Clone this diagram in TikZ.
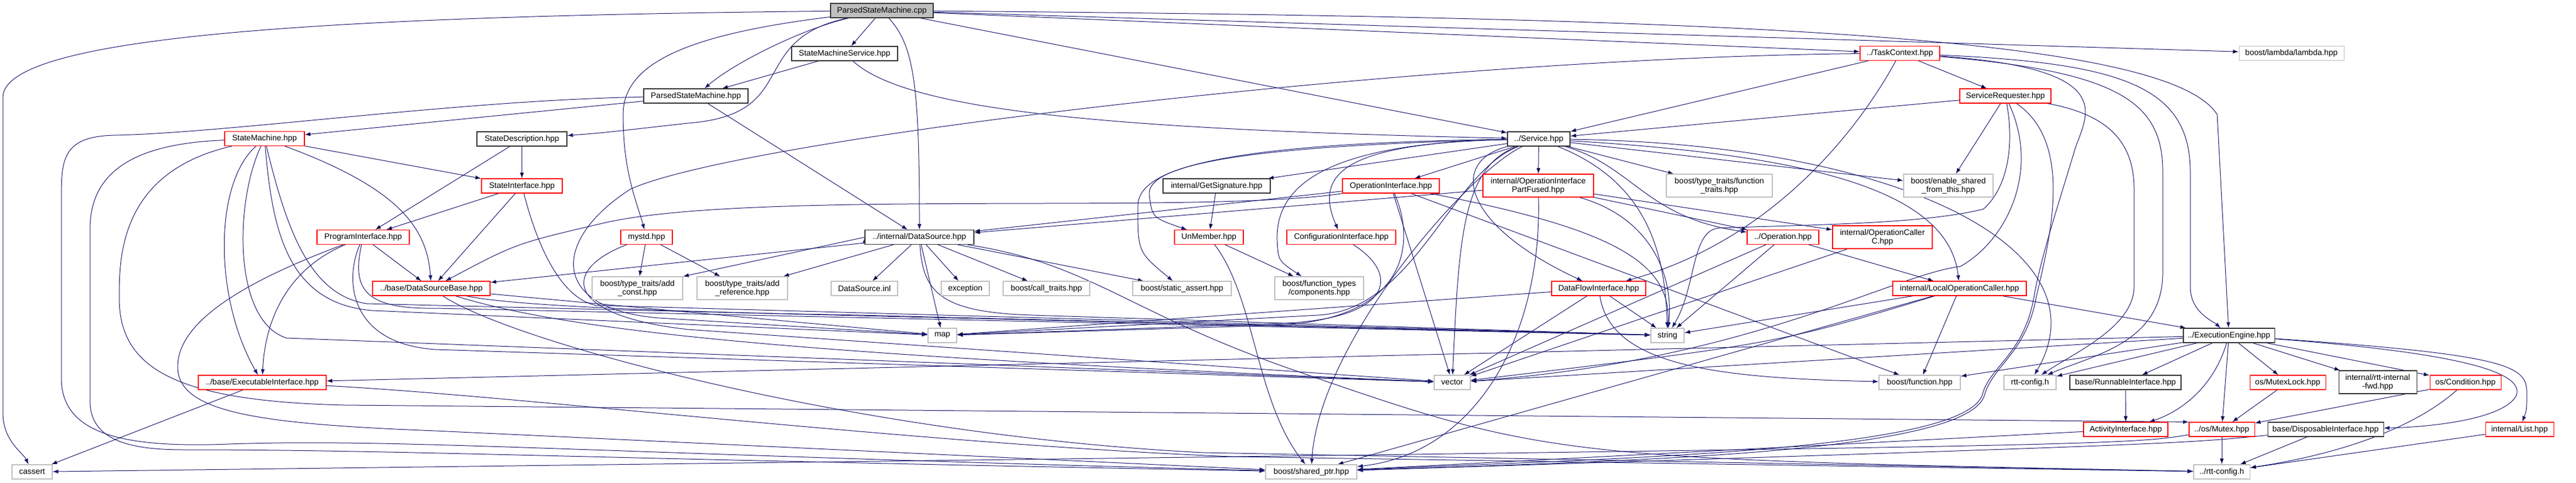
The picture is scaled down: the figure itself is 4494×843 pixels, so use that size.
\documentclass[tikz,border=0pt]{standalone}
\usepackage{fontspec}
\setmainfont{Liberation Sans}
\usetikzlibrary{arrows.meta, backgrounds}

\definecolor{edgeblue}{HTML}{191970}
\definecolor{grey75}{HTML}{BFBFBF}

\tikzset{
  file/.style={draw, rectangle, fill=white, line width=1.1pt, inner sep=0pt,
    minimum height=25pt, align=center, font=\fontsize{14}{15}\selectfont},
  doc/.style={file, draw=black!80},
  cut/.style={file, draw=red},
  sys/.style={file, draw=grey75},
  two/.style={minimum height=40pt},
  dep/.style={draw=edgeblue, line width=1pt, -{Latex[length=10pt, width=7pt]}},
}

\begin{document}
\begin{tikzpicture}[x=1pt, y=-1pt]
\useasboundingbox (0,0) rectangle (4494,843);

% the file itself and the headers it pulls in
\node [doc, fill=grey75, minimum width=179pt] (cpp) at (1538.5,18.5) {ParsedStateMachine.cpp};
\node [doc, minimum width=185pt] (smsvc) at (1473.5,93.5) {StateMachineService.hpp};
\node [cut, minimum width=139pt] (tc) at (3314.5,93) {../TaskContext.hpp};
\node [sys, minimum width=183pt] (lambda) at (3997.5,93) {boost/lambda/lambda.hpp};
\node [doc, minimum width=182pt] (psm) at (1214,167.5) {ParsedStateMachine.hpp};
\node [cut, minimum width=159pt] (sreq) at (3498.5,167.5) {ServiceRequester.hpp};
\node [cut, minimum width=139pt] (sm) at (461.5,242) {StateMachine.hpp};
\node [doc, minimum width=157pt] (sdesc) at (910.5,242.5) {StateDescription.hpp};
\node [doc, minimum width=109pt] (svc) at (2684.5,242.5) {../Service.hpp};
\node [cut, minimum width=141pt] (sint) at (910.5,324.5) {StateInterface.hpp};
\node [doc, minimum width=187pt] (getsig) at (2122.5,324.5) {internal/GetSignature.hpp};
\node [cut, minimum width=169pt] (opint) at (2426.5,324.5) {OperationInterface.hpp};
\node [cut, two, minimum width=193pt] (oipf) at (2683.5,324) {internal/OperationInterface\\PartFused.hpp};
\node [sys, two, minimum width=185pt] (fntraits) at (2999.5,324) {boost/type\_traits/function\\\_traits.hpp};
\node [sys, two, minimum width=156pt] (esft) at (3399,324) {boost/enable\_shared\\\_from\_this.hpp};
\node [cut, minimum width=161pt] (prog) at (633.5,414) {ProgramInterface.hpp};
\node [cut, minimum width=90pt] (mystd) at (1128,414) {mystd.hpp};
\node [doc, minimum width=190pt] (ds) at (1604,414) {../internal/DataSource.hpp};
\node [cut, minimum width=120pt] (unmem) at (2109,414) {UnMember.hpp};
\node [cut, minimum width=190pt] (cfg) at (2340,414) {ConfigurationInterface.hpp};
\node [cut, minimum width=125pt] (op) at (3110.5,414) {../Operation.hpp};
\node [cut, two, minimum width=174pt] (occ) at (3284,414) {internal/OperationCaller\\C.hpp};
\node [cut, minimum width=205pt] (dsb) at (752.5,503.5) {../base/DataSourceBase.hpp};
\node [sys, two, minimum width=158pt] (addconst) at (1112,503) {boost/type\_traits/add\\\_const.hpp};
\node [sys, two, minimum width=158pt] (addref) at (1295,503) {boost/type\_traits/add\\\_reference.hpp};
\node [sys, minimum width=116pt] (dsinl) at (1508,503.5) {DataSource.inl};
\node [sys, minimum width=84pt] (exception) at (1684,503.5) {exception};
\node [sys, minimum width=151pt] (calltraits) at (1825.5,503.5) {boost/call\_traits.hpp};
\node [sys, minimum width=172pt] (staticassert) at (2062,503.5) {boost/static\_assert.hpp};
\node [sys, two, minimum width=155pt] (fncomp) at (2301.5,503) {boost/function\_types\\/components.hpp};
\node [cut, minimum width=164pt] (dfi) at (2789,503.5) {DataFlowInterface.hpp};
\node [cut, minimum width=233pt] (loc) at (3418.5,503.5) {internal/LocalOperationCaller.hpp};
\node [sys, minimum width=50pt] (map) at (1644,585.5) {map};
\node [sys, minimum width=58pt] (string) at (2909,585.5) {string};
\node [doc, minimum width=159pt] (ee) at (3888.5,585.5) {../ExecutionEngine.hpp};
\node [cut, minimum width=223pt] (exe) at (457.5,667.5) {../base/ExecutableInterface.hpp};
\node [sys, minimum width=63pt] (vector) at (2533.5,667.5) {vector};
\node [sys, minimum width=142pt] (bfn) at (3349,667.5) {boost/function.hpp};
\node [sys, minimum width=91pt] (rttcfg) at (3541.5,667.5) {rtt-config.h};
\node [doc, minimum width=194pt] (run) at (3708,667.5) {base/RunnableInterface.hpp};
\node [cut, minimum width=132pt] (mlock) at (3991,667.5) {os/MutexLock.hpp};
\node [doc, two, minimum width=136pt] (fwd) at (4148,667) {internal/rtt-internal\\-fwd.hpp};
\node [cut, minimum width=124pt] (cond) at (4301,667.5) {os/Condition.hpp};
\node [cut, minimum width=147pt] (act) at (3708.5,749.5) {ActivityInterface.hpp};
\node [cut, minimum width=114pt] (mutex) at (3876,749.5) {../os/Mutex.hpp};
\node [doc, minimum width=202pt] (disp) at (4057,749.5) {base/DisposableInterface.hpp};
\node [cut, minimum width=119pt] (list) at (4395.5,749.5) {internal/List.hpp};
\node [sys, minimum width=70pt] (cassert) at (56,823.5) {cassert};
\node [sys, minimum width=159pt] (shptr) at (2287.5,823.5) {boost/shared\_ptr.hpp};
\node [sys, minimum width=98pt] (rttcfg2) at (3876,823.5) {../rtt-config.h};

\begin{scope}[on background layer]
% ParsedStateMachine.cpp
\path [dep] (cpp) edge (smsvc) edge (svc) edge (tc) edge (lambda);
\draw [dep] (cpp) .. controls (1400,50) and (1280,110) .. (psm);
\draw [dep] (cpp) .. controls (1595,80) and (1604,150) .. (ds);
\draw [dep] (cpp) .. controls (1300,70) and (1400,200) .. (1200,215) .. controls (1050,232) .. (sdesc);
\draw [dep] (cpp) .. controls (1200,60) and (1087,110) .. (1087,200) .. controls (1087,300) and (1110,350) .. (mystd);
\draw [dep] (cpp) .. controls (3000,30) and (3780,60) .. (3868,200) -- (ee);
\draw [dep] (cpp) .. controls (600,28) and (5,60) .. (5,170) -- (5,720) .. controls (5,770) and (40,790) .. (cassert);

% StateMachineService.hpp, ParsedStateMachine.hpp
\path [dep] (smsvc) edge (psm);
\draw [dep] (smsvc) .. controls (1580,190) and (1900,225) .. (svc);
\path [dep] (psm) edge (sm) edge (ds);
\draw [dep] (psm) .. controls (800,175) and (400,232) .. (200,236) .. controls (107,238) and (107,280) .. (107,350) -- (107,660) .. controls (107,760) and (220,782) .. (400,775) .. controls (700,765) and (1000,790) .. (shptr);

% StateDescription.hpp, StateMachine.hpp
\path [dep] (sdesc) edge (sint) edge (prog);
\path [dep] (sm) edge (sint);
\draw [dep] (sm) .. controls (700,330) and (745,400) .. (dsb);
\draw [dep] (sm) .. controls (373,320) and (373,520) .. (exe);
\draw [dep] (sm) .. controls (475,400) and (500,530) .. (650,542) -- (map);
\draw [dep] (sm) .. controls (500,400) and (540,515) .. (640,530) -- (string);
\draw [dep] (sm) .. controls (410,350) and (405,560) .. (500,590) -- (vector);
\draw [dep] (sm) .. controls (208,300) and (208,450) .. (208,520) .. controls (208,640) and (300,700) .. (600,707) -- (mutex.north west);
\draw [dep] (sm) .. controls (250,250) and (157,290) .. (157,400) -- (157,700) .. controls (157,770) and (230,785) .. (320,785) .. controls (700,785) and (1000,800) .. (shptr);

% StateInterface.hpp, ProgramInterface.hpp, mystd.hpp
\path [dep] (sint) edge (prog) edge (dsb);
\draw [dep] (sint) .. controls (935,420) and (975,520) .. (1040,533) -- (string);
\path [dep] (prog) edge (dsb);
\draw [dep] (prog) .. controls (500,470) and (462,560) .. (exe);
\draw [dep] (prog) .. controls (615,500) and (630,540) .. (760,538) -- (string);
\draw [dep] (prog) .. controls (600,490) and (610,600) .. (760,610) -- (vector);
\draw [dep] (prog) .. controls (430,490) and (310,560) .. (310,640) .. controls (310,720) and (450,740) .. (760,752) -- (shptr);
\path [dep] (mystd) edge (addconst) edge (addref);
\draw [dep] (mystd) .. controls (980,470) and (980,550) .. (1200,575) -- (vector);

% ../internal/DataSource.hpp and the base headers
\path [dep] (ds) edge (dsb) edge (addref) edge (dsinl) edge (exception) edge (calltraits) edge (staticassert) edge (map);
\path [dep] (ds.west) edge (addconst.north east);
\draw [dep] (ds) .. controls (1610,510) and (1640,545) .. (1800,550) -- (string);
\draw [dep] (ds) .. controls (1900,460) and (1960,540) .. (2240,640) .. controls (2700,800) .. (rttcfg2);
\path [dep] (dsb) edge (map);
\draw [dep] (dsb) .. controls (900,535) and (1200,545) .. (1500,550) -- (string);
\draw [dep] (dsb) .. controls (1000,580) and (1400,620) .. (vector);
\draw [dep] (dsb) .. controls (900,600) and (1500,760) .. (2100,790) -- (rttcfg2);
\path [dep] (exe) edge (cassert);
\draw [dep] (exe) .. controls (900,690) and (1600,775) .. (2150,797) -- (rttcfg2);

% ../Service.hpp
\path [dep] (svc) edge (opint) edge (oipf) edge (fntraits) edge (esft) edge (getsig);
\draw [dep] (svc) .. controls (2150,255) and (2000,290) .. (2005,340) .. controls (2010,380) .. (unmem);
\draw [dep] (svc) .. controls (2330,250) and (2295,310) .. (cfg);
\draw [dep] (svc) .. controls (2300,250) and (2225,330) .. (2228,420) .. controls (2230,455) .. (fncomp);
\draw [dep] (svc) .. controls (2100,250) and (1985,300) .. (1985,360) .. controls (1985,440) .. (staticassert);
\draw [dep] (svc) .. controls (2530,300) and (2470,540) .. (2300,550) -- (map);
\draw [dep] (svc) .. controls (2880,320) and (2905,450) .. (string);
\draw [dep] (svc) .. controls (2550,290) and (2545,420) .. (vector);
\draw [dep] (svc) .. controls (2560,300) and (2300,600) .. (shptr);
\draw [dep] (svc) .. controls (2530,280) and (2545,390) .. (dfi);
\draw [dep] (svc) .. controls (2850,290) and (2870,380) .. (op);
\draw [dep] (svc) .. controls (3150,270) and (3400,330) .. (loc);
\draw [dep] (svc) .. controls (3300,250) and (3680,430) .. (rttcfg);

% interfaces below the service
\path [dep] (getsig) edge (unmem);
\path [dep] (unmem) edge (fncomp);
\draw [dep] (unmem) .. controls (2190,520) and (2190,700) .. (shptr);
\path [dep] (opint) edge (ds) edge (vector) edge (bfn);
\draw [dep] (opint) .. controls (2100,375) and (1300,330) .. (1050,390) .. controls (900,425) .. (dsb);
\draw [dep] (opint) .. controls (2470,420) and (2460,560) .. (2220,568) -- (map);
\draw [dep] (opint) .. controls (2820,400) and (2915,460) .. (string);
\path [dep] (oipf) edge (ds) edge (op) edge (occ);
\draw [dep] (oipf) .. controls (2690,580) and (2580,790) .. (shptr);
\draw [dep] (oipf) .. controls (2880,380) and (2920,480) .. (string);
\draw [dep] (cfg) .. controls (2445,480) and (2430,560) .. (2220,565) -- (map);
\path [dep] (dfi) edge (map) edge (vector) edge (string);
\draw [dep] (dfi) .. controls (2810,640) and (3000,660) .. (bfn);

% ../TaskContext.hpp, ServiceRequester.hpp
\path [dep] (tc) edge (svc) edge (sreq);
\draw [dep] (tc) .. controls (3240,230) and (3090,420) .. (dfi);
\draw [dep] (tc) .. controls (3700,110) and (3821,150) .. (3821,300) -- (3821,500) .. controls (3821,545) and (3860,560) .. (ee);
\draw [dep] (tc) .. controls (3700,125) and (3773,180) .. (3773,300) -- (3773,480) .. controls (3770,600) and (3650,620) .. (rttcfg);
\draw [dep] (tc) .. controls (3700,120) and (3640,200) .. (3620,260) .. controls (3590,360) and (3560,450) .. (3548,520) .. controls (3530,620) and (3470,640) .. (3458,690) .. controls (3420,790) and (2800,800) .. (shptr);
\draw [dep] (tc) .. controls (2500,100) and (1300,240) .. (1100,330) .. controls (960,420) and (960,540) .. (1150,555) -- (map);
\path [dep] (sreq) edge (svc) edge (esft);
\draw [dep] (sreq) .. controls (3515,260) and (3500,330) .. (3460,365) .. controls (3350,392) and (3150,392) .. (3000,398) .. controls (2950,400) and (2960,500) .. (string);
\draw [dep] (sreq) .. controls (3560,300) and (3500,420) .. (3420,465) .. controls (3300,480) and (3050,630) .. (vector);
\draw [dep] (sreq) .. controls (3620,250) and (3575,420) .. (3552,520) .. controls (3535,615) and (3475,640) .. (3462,690) .. controls (3430,795) and (2800,805) .. (shptr);
\draw [dep] (sreq) .. controls (3680,200) and (3723,250) .. (3723,330) -- (3723,500) .. controls (3723,570) and (3620,615) .. (rttcfg);

% operations
\path [dep] (op) edge (loc) edge (vector) edge (string);
\path [dep] (occ) edge (vector);
\path [dep] (loc) edge (string) edge (bfn) edge (ee) edge (shptr);
\draw [dep] (loc) .. controls (3100,600) .. (vector);

% ../ExecutionEngine.hpp and the os headers
\path [dep] (ee) edge (exe) edge (vector) edge (bfn) edge (rttcfg) edge (run) edge (mutex) edge (mlock) edge (fwd) edge (cond);
\draw [dep] (ee) .. controls (3860,680) and (3800,720) .. (act);
\draw [dep] (ee) .. controls (4350,620) and (4400,660) .. (4390,690) .. controls (4370,730) and (4250,745) .. (disp);
\draw [dep] (ee) .. controls (4390,620) and (4410,640) .. (4408,690) .. controls (4408,715) .. (list);
\path [dep] (run) edge (act);
\path [dep] (act) edge (shptr);
\path [dep] (mlock) edge (mutex);
\path [dep] (cond) edge (mutex);
\draw [dep] (cond) .. controls (4220,740) and (4100,790) .. (rttcfg2);
\path [dep] (mutex) edge (rttcfg2);
\draw [dep] (mutex) .. controls (3700,778) .. (cassert);
\path [dep] (disp) edge (rttcfg2);
\draw [dep] (disp) .. controls (3800,775) .. (shptr);
\path [dep] (list) edge (rttcfg2);
\end{scope}

\end{tikzpicture}
\end{document}
